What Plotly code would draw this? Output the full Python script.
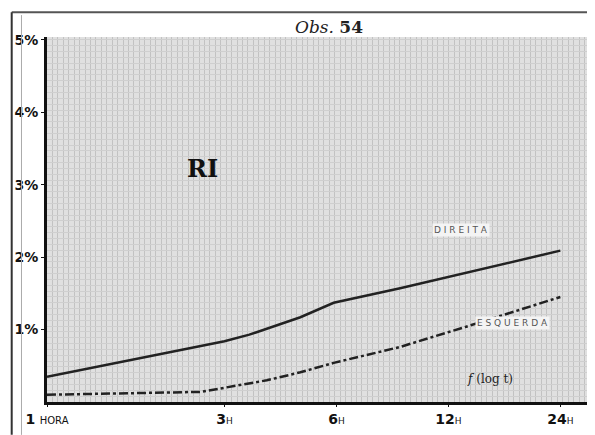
import plotly.graph_objects as go

hours_dir = [1, 3, 3.5, 4.8, 5.9, 8.9, 24]
direita = [0.35, 0.84, 0.93, 1.17, 1.37, 1.57, 2.09]
hours_esq = [1, 2.6, 3.9, 4.8, 5.9, 8.9, 13.4, 24]
esquerda = [0.10, 0.14, 0.30, 0.41, 0.54, 0.76, 1.04, 1.45]

x_tickvals = [1, 3, 6, 12, 24]
x_ticktext = ["<b>1</b> <span style='font-size:10px'>HORA</span>",
              "<b>3</b><span style='font-size:9px'>H</span>",
              "<b>6</b><span style='font-size:9px'>H</span>",
              "<b>12</b><span style='font-size:9px'>H</span>",
              "<b>24</b><span style='font-size:9px'>H</span>"]
y_tickvals = [1, 2, 3, 4, 5]
y_ticktext = ["<b>1%</b>", "<b>2%</b>", "<b>3%</b>", "<b>4%</b>", "<b>5%</b>"]

fig = go.Figure()

# graph-paper grid overlay (linear helper axes, no data shown)
fig.add_trace(go.Scatter(x=[0, 100], y=[0, 100], xaxis="x2", yaxis="y2",
                         mode="markers", marker=dict(opacity=0), hoverinfo="skip",
                         showlegend=False))

fig.add_trace(go.Scatter(x=hours_dir, y=direita, mode="lines", name="DIREITA",
                         line=dict(color="#222222", width=2.5), showlegend=False))
fig.add_trace(go.Scatter(x=hours_esq, y=esquerda, mode="lines", name="ESQUERDA",
                         line=dict(color="#222222", width=2.5, dash="dashdot"),
                         showlegend=False))

fig.update_layout(
    width=587, height=427,
    margin=dict(l=39, r=5, t=29, b=33, autoexpand=False),
    paper_bgcolor="white",
    plot_bgcolor="#e0e0e0",
    font=dict(family="DejaVu Sans", color="#111111"),
    xaxis=dict(type="log", range=[0, 1.46], tickvals=x_tickvals, ticktext=x_ticktext,
               showgrid=False, zeroline=False, showline=True, linecolor="#111111",
               linewidth=3, ticks="outside", ticklen=2, tickcolor="#111111",
               tickfont=dict(size=14, color="#111111", family="DejaVu Sans"),
               automargin=False, layer="above traces"),
    yaxis=dict(range=[0, 5.04], tickvals=y_tickvals, ticktext=y_ticktext,
               showgrid=False, zeroline=False, showline=True, linecolor="#111111",
               linewidth=3, ticks="outside", ticklen=3, tickcolor="#111111",
               tickfont=dict(size=14, color="#111111", family="DejaVu Sans"),
               automargin=False, layer="above traces"),
    xaxis2=dict(overlaying="x", range=[0, 100], dtick=1.0, showgrid=True,
                gridcolor="#c2c2c2", gridwidth=1, showticklabels=False,
                zeroline=False, showline=False, automargin=False),
    yaxis2=dict(overlaying="y", range=[0, 100], dtick=1.6, showgrid=True,
                gridcolor="#cfcfcf", gridwidth=1, showticklabels=False,
                zeroline=False, showline=False, automargin=False),
)

# frame lines around the sheet
fig.add_shape(type="line", xref="paper", yref="paper", x0=-0.065, x1=1.01, y0=1.068, y1=1.068,
              line=dict(color="#555555", width=2))
fig.add_shape(type="line", xref="paper", yref="paper", x0=-0.065, x1=-0.065, y0=-0.09, y1=1.068,
              line=dict(color="#333333", width=2))
fig.add_shape(type="line", xref="paper", yref="paper", x0=-0.047, x1=-0.047, y0=-0.09, y1=1.06,
              line=dict(color="#aaaaaa", width=1))

# texts
fig.add_annotation(text="<i>Obs.</i> <b>54</b>", xref="paper", yref="paper", x=0.52, y=1.027,
                   yanchor="middle", showarrow=False,
                   font=dict(size=17, color="#222222", family="DejaVu Serif"))
fig.add_annotation(text="<b>RI</b>", xref="paper", yref="paper", x=0.254, y=0.685,
                   showarrow=False, font=dict(size=24, color="#111111", family="DejaVu Serif"))
fig.add_annotation(text="D I R E I T A", xref="paper", yref="paper", x=0.816, y=0.471,
                   showarrow=False, bgcolor="#f4f4f4",
                   font=dict(size=9, color="#555555", family="DejaVu Sans"))
fig.add_annotation(text="E S Q U E R D A", xref="paper", yref="paper", x=0.926, y=0.197,
                   showarrow=False, bgcolor="#f4f4f4",
                   font=dict(size=9, color="#555555", family="DejaVu Sans"))
fig.add_annotation(text="<i>f</i> (log t)", xref="paper", yref="paper", x=0.862, y=0.038,
                   showarrow=False,
                   font=dict(size=12, color="#222222", family="DejaVu Serif"))

fig.write_html("out.html")
